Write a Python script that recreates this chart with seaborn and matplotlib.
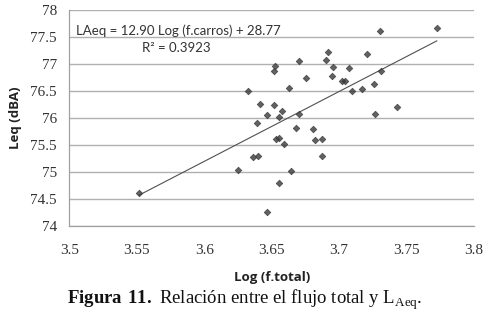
import numpy as np
import pandas as pd
import matplotlib
matplotlib.use("Agg")
import matplotlib.pyplot as plt
import seaborn as sns

log_total = [3.5514, 3.6247, 3.6321, 3.6365, 3.6398, 3.6390, 3.6417, 3.6462, 3.6467,
             3.6514, 3.6514, 3.6526, 3.6533, 3.6551, 3.6556, 3.6556, 3.6578, 3.6588,
             3.6627, 3.6640, 3.6677, 3.6701, 3.6704, 3.6756, 3.6805, 3.6822, 3.6872,
             3.6877, 3.6906, 3.6921, 3.6951, 3.6956, 3.7020, 3.7044, 3.7074, 3.7099,
             3.7173, 3.7210, 3.7257, 3.7269, 3.7301, 3.7309, 3.7427, 3.7726]
leq_dba = [74.61, 75.04, 76.50, 75.27, 75.29, 75.91, 76.25, 76.05, 74.25,
           76.23, 76.87, 76.97, 75.61, 75.63, 76.01, 74.80, 76.13, 75.52,
           76.55, 75.02, 75.81, 77.05, 76.08, 76.73, 75.79, 75.58, 75.30,
           75.61, 77.07, 77.22, 76.77, 76.95, 76.68, 76.68, 76.92, 76.50,
           76.53, 77.18, 76.63, 76.08, 77.62, 76.87, 76.21, 77.67]

x_ticks = [3.5, 3.55, 3.6, 3.65, 3.7, 3.75, 3.8]
y_ticks = [74, 74.5, 75, 75.5, 76, 76.5, 77, 77.5, 78]
x_tick_labels = ["3.5", "3.55", "3.6", "3.65", "3.7", "3.75", "3.8"]
y_tick_labels = ["74", "74.5", "75", "75.5", "76", "76.5", "77", "77.5", "78"]

equation_text = "LAeq = 12.90 Log (f.carros) + 28.77"
r2_text = "R² = 0.3923"
x_label = "Log (f.total)"
y_label = "Leq (dBA)"

df = pd.DataFrame({"log_total": log_total, "leq": leq_dba})

sns.set_style("white")
plt.rcParams["mathtext.fontset"] = "custom"
plt.rcParams["mathtext.rm"] = "Liberation Serif"
plt.rcParams["mathtext.bf"] = "Liberation Serif:bold"

fig = plt.figure(figsize=(4.87, 3.13), dpi=100)
ax = fig.add_axes([0.1427, 0.279, 0.973 - 0.1427, 0.968 - 0.279])

sns.regplot(data=df, x="log_total", y="leq", ax=ax, ci=None, truncate=True,
            marker="D",
            scatter_kws=dict(s=11, color="#3a3a3a", edgecolor="#3a3a3a", linewidths=0.6, zorder=3),
            line_kws=dict(color="#505050", lw=0.8, zorder=2))

ax.set_xlim(3.5, 3.8)
ax.set_ylim(74, 78)
ax.set_xticks(x_ticks)
ax.set_xticklabels(x_tick_labels, family="Liberation Serif", fontsize=11, color="#333333")
ax.set_yticks(y_ticks)
ax.set_yticklabels(y_tick_labels, family="Liberation Serif", fontsize=11, color="#333333")
ax.yaxis.grid(True, color="#b0b0b0", lw=1.0)
ax.xaxis.grid(False)
ax.set_axisbelow(True)
for s in ["top", "right"]:
    ax.spines[s].set_visible(False)
for s in ["left", "bottom"]:
    ax.spines[s].set_color("#a0a0a0")
    ax.spines[s].set_linewidth(0.9)
ax.tick_params(axis="both", which="major", direction="out", length=4, width=0.9,
               color="#a0a0a0")
ax.tick_params(axis="x", pad=9)
ax.tick_params(axis="y", pad=5)

ax.set_xlabel(x_label, family="Open Sans", fontweight="bold", fontsize=9.5, color="#222222", labelpad=10)
ax.set_ylabel(y_label, family="Open Sans", fontweight="bold", fontsize=9.5, color="#222222", labelpad=6)

ax.text(0.015, 0.905, equation_text, transform=ax.transAxes, family="Lato",
        fontsize=9.5, color="#333333", ha="left", va="center")
ax.text(0.263, 0.826, r2_text, transform=ax.transAxes, family="Lato",
        fontsize=9.5, color="#333333", ha="center", va="center")

fig.text(0.503, 0.03, r"$\mathbf{Figura\ 11.}$ Relación entre el flujo total y L$_{\mathrm{Aeq}}$.",
         family="Liberation Serif", fontsize=13.5, color="#111111", ha="center", va="baseline")

fig.savefig("out.png", dpi=100)
